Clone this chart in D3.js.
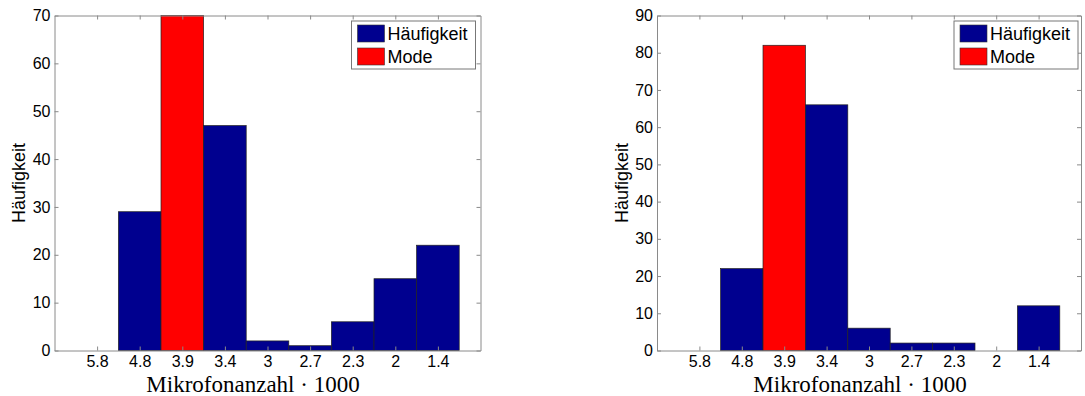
<!DOCTYPE html>
<html>
<head>
<meta charset="utf-8">
<script src="https://cdn.jsdelivr.net/npm/d3@7"></script>
<style>
  body { margin: 0; background: #fff; }
  svg text { font-family: "Liberation Sans", Arial, sans-serif; }
  svg text.xlabel { font-family: "Liberation Serif", "Times New Roman", serif; }
</style>
</head>
<body>
<div id="chart"></div>
<script>
// categories (Mikrofonanzahl / 1000) shown along x
var categories = ["5.8", "4.8", "3.9", "3.4", "3", "2.7", "2.3", "2", "1.4"];

// counts per bin
var leftValues = [0, 29, 70, 47, 2, 1, 6, 15, 22];
var rightValues = [0, 22, 82, 66, 6, 2, 2, 0, 12];

// index of the mode bar in each panel
var leftMode = 2;
var rightMode = 2;

var leftYTicks = [0, 10, 20, 30, 40, 50, 60, 70];
var rightYTicks = [0, 10, 20, 30, 40, 50, 60, 70, 80, 90];

var legendLabels = ["Häufigkeit", "Mode"];

var blue = "#00008f";
var red = "#ff0000";
var axisColor = "#8a8a8a";

var svg = d3.select("#chart").append("svg")
  .attr("width", 1085)
  .attr("height", 396);

function drawPanel(cfg) {
  var g = svg.append("g");
  var x = d3.scaleLinear().domain([0, categories.length + 1]).range([cfg.left, cfg.right]);
  var y = d3.scaleLinear().domain([0, cfg.yMax]).range([cfg.bottom, cfg.top]);
  var bw = x(1) - x(0);

  // bars
  g.selectAll("rect.bar")
    .data(cfg.values)
    .enter()
    .append("rect")
    .attr("class", "bar")
    .attr("x", (d, i) => x(i + 1) - bw / 2)
    .attr("y", d => y(d))
    .attr("width", bw)
    .attr("height", d => y(0) - y(d))
    .attr("fill", (d, i) => i === cfg.mode ? red : blue)
    .attr("stroke", d => d > 0 ? "#222" : "none")
    .attr("stroke-width", 0.7);

  // axes (ticks point inward, box on all sides)
  var tickPos = categories.map((c, i) => i + 1);
  var xBottom = d3.axisBottom(x).tickValues(tickPos)
    .tickFormat((d, i) => categories[i]).tickSizeInner(-4).tickSizeOuter(0).tickPadding(5);
  var xTop = d3.axisTop(x).tickValues(tickPos).tickFormat("").tickSizeInner(-4).tickSizeOuter(0);
  var yLeft = d3.axisLeft(y).tickValues(cfg.yTicks).tickSizeInner(-4).tickSizeOuter(0).tickPadding(4);
  var yRight = d3.axisRight(y).tickValues(cfg.yTicks).tickFormat("").tickSizeInner(-4).tickSizeOuter(0);

  var axes = [
    g.append("g").attr("transform", `translate(0,${cfg.bottom})`).call(xBottom),
    g.append("g").attr("transform", `translate(0,${cfg.top})`).call(xTop),
    g.append("g").attr("transform", `translate(${cfg.left},0)`).call(yLeft),
    g.append("g").attr("transform", `translate(${cfg.right},0)`).call(yRight)
  ];
  axes.forEach(function(a) {
    a.attr("font-family", null);
    a.selectAll("path.domain").attr("stroke", axisColor);
    a.selectAll(".tick line").attr("stroke", axisColor);
    a.selectAll(".tick text").attr("fill", "#000").style("font-size", "16px");
  });

  // y label
  g.append("text")
    .attr("transform", `translate(${cfg.ylabelX},${(cfg.top + cfg.bottom) / 2}) rotate(-90)`)
    .attr("text-anchor", "middle")
    .attr("dy", "0.35em")
    .style("font-size", "18px")
    .text("Häufigkeit");

  // x label
  g.append("text")
    .attr("class", "xlabel")
    .attr("x", cfg.xlabelX)
    .attr("y", 392)
    .attr("text-anchor", "middle")
    .style("font-size", "23px")
    .text("Mikrofonanzahl · 1000");

  // legend
  var lg = g.append("g").attr("transform", `translate(${cfg.legendX},21)`);
  lg.append("rect")
    .attr("width", 124).attr("height", 48)
    .attr("fill", "#fff").attr("stroke", "#777").attr("stroke-width", 1);
  legendLabels.forEach(function(lab, i) {
    lg.append("rect")
      .attr("x", 6).attr("y", 4 + i * 23)
      .attr("width", 27).attr("height", 17)
      .attr("fill", i === 0 ? blue : red)
      .attr("stroke", "#333").attr("stroke-width", 0.6);
    lg.append("text")
      .attr("x", 36).attr("y", 12.5 + i * 23)
      .attr("dy", "0.35em")
      .style("font-size", "18px")
      .text(lab);
  });
}

drawPanel({
  values: leftValues, mode: leftMode, yMax: 70, yTicks: leftYTicks,
  left: 54.5, right: 480.5, top: 15.5, bottom: 350.5,
  ylabelX: 19, xlabelX: 253, legendX: 351.5
});

drawPanel({
  values: rightValues, mode: rightMode, yMax: 90, yTicks: rightYTicks,
  left: 657, right: 1081, top: 15.5, bottom: 350.5,
  ylabelX: 622, xlabelX: 860, legendX: 954
});
</script>
</body>
</html>
